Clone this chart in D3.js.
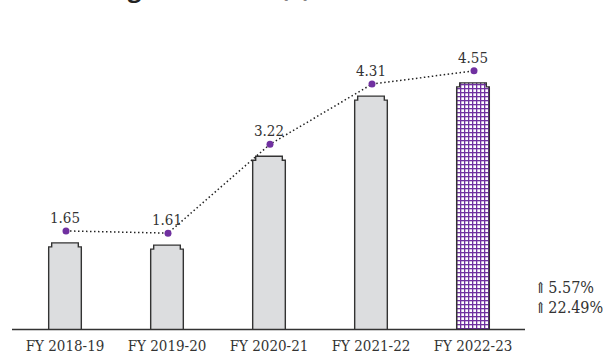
<!DOCTYPE html>
<html>
<head>
<meta charset="utf-8">
<script src="https://cdn.jsdelivr.net/npm/d3@7"></script>
<style>
  body { margin: 0; background: #fff; }
  svg { display: block; }
  svg text { font-family: "DejaVu Serif Condensed", "DejaVu Serif", serif; fill: #333; }
</style>
</head>
<body>
<div id="container"></div>
<script>
var years = ["FY 2018-19", "FY 2019-20", "FY 2020-21", "FY 2021-22", "FY 2022-23"];
var eps = [1.65, 1.61, 3.22, 4.31, 4.55];
var labels = ["1.65", "1.61", "3.22", "4.31", "4.55"];
var growth = ["5.57%", "22.49%"];

var width = 604, height = 356;
var base_y = 329.5;
var purple = "#7030a0";

var svg = d3.select("#container").append("svg")
    .attr("width", width)
    .attr("height", height);

// grid pattern for the latest year
var defs = svg.append("defs");
var pat = defs.append("pattern")
    .attr("id", "grid")
    .attr("patternUnits", "userSpaceOnUse")
    .attr("width", 4).attr("height", 4);
pat.append("rect").attr("width", 4).attr("height", 4).attr("fill", "#fff");
pat.append("rect").attr("width", 4).attr("height", 1.3).attr("fill", purple);
pat.append("rect").attr("width", 1.3).attr("height", 4).attr("fill", purple);

var x = d3.scaleBand()
    .domain(years)
    .range([14, 524])
    .paddingInner(0.68)
    .paddingOuter(0.34);

var y = d3.scaleLinear()
    .domain([0, 5])
    .range([334, 58]);

// title (cut off at the top in the source, only its lower edge shows)
svg.append("text")
    .attr("x", 50)
    .attr("y", -3)
    .style("font-family", "'Open Sans', sans-serif")
    .style("font-weight", "bold")
    .style("font-size", "24px")
    .style("fill", "#222")
    .text("Earnings Per Share (\u20B9)");

var bar_path = function(d, i){
    var x0 = x(years[i]), x1 = x0 + x.bandwidth();
    var top = y(d);
    var s = 3, n = 4;
    return "M" + x0 + "," + base_y +
        " V" + (top + n) + " H" + (x0 + s) + " V" + top +
        " H" + (x1 - s) + " V" + (top + n) + " H" + x1 +
        " V" + base_y;
};

svg.append("g").selectAll("path")
    .data(eps)
    .enter().append("path")
    .attr("d", bar_path)
    .attr("fill", function(d, i){ return i == eps.length - 1 ? "url(#grid)" : "#dcdddf"; })
    .attr("stroke", "#333")
    .attr("stroke-width", 1.4);

// axis line
svg.append("line")
    .attr("x1", 12).attr("x2", 525)
    .attr("y1", base_y).attr("y2", base_y)
    .attr("stroke", "#333")
    .attr("stroke-width", 1.3);

var xAxis = svg.append("g")
    .attr("transform", "translate(0," + base_y + ")")
    .call(d3.axisBottom(x).tickSize(0).tickPadding(11));
xAxis.select(".domain").remove();
xAxis.selectAll("text")
    .style("font-family", "'DejaVu Serif Condensed', 'DejaVu Serif', serif")
    .style("font-size", "15px")
    .attr("fill", "#333");

// dotted trend line
var cx = function(d, i){ return x(years[i]) + x.bandwidth() / 2 + 1; };
var cy = function(d){ return y(d) - 12; };

svg.append("path")
    .datum(eps)
    .attr("d", d3.line().x(cx).y(cy))
    .attr("fill", "none")
    .attr("stroke", "#222")
    .attr("stroke-width", 1.5)
    .attr("stroke-dasharray", "1.5,2.5");

svg.append("g").selectAll("circle")
    .data(eps)
    .enter().append("circle")
    .attr("cx", cx)
    .attr("cy", cy)
    .attr("r", 3.5)
    .attr("fill", purple);

svg.append("g").selectAll("text")
    .data(eps)
    .enter().append("text")
    .attr("x", function(d, i){ return x(years[i]) + x.bandwidth() / 2; })
    .attr("y", function(d){ return cy(d) - 8; })
    .attr("text-anchor", "middle")
    .style("font-size", "15px")
    .text(function(d, i){ return labels[i]; });

var g_txt = svg.append("g").selectAll("text")
    .data(growth)
    .enter().append("text")
    .attr("x", 535)
    .attr("y", function(d, i){ return 293 + i * 20; });
g_txt.append("tspan")
    .style("font-size", "15px")
    .text("\u21D1");
g_txt.append("tspan")
    .attr("dx", 2)
    .style("font-size", "16px")
    .text(function(d){ return d; });
</script>
</body>
</html>
